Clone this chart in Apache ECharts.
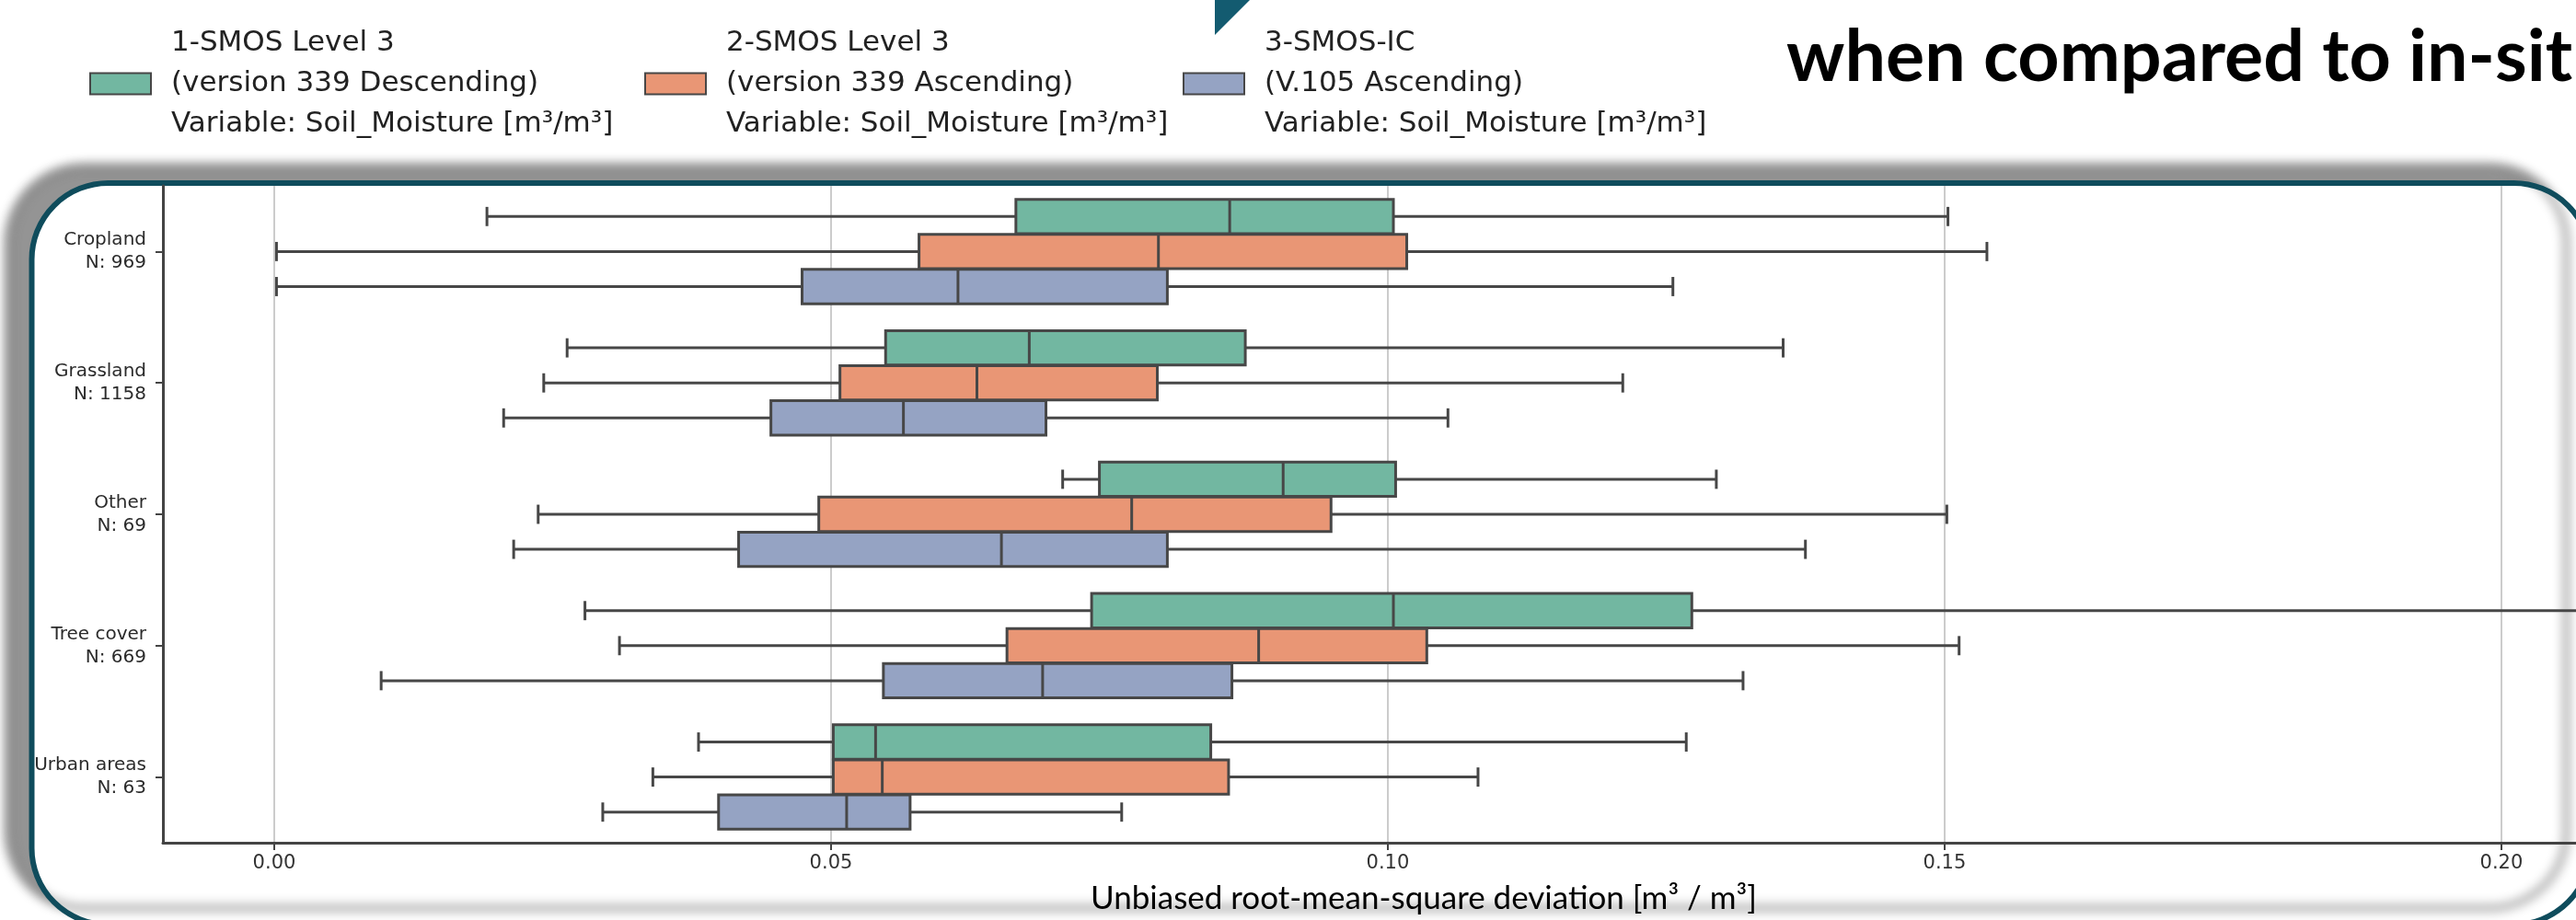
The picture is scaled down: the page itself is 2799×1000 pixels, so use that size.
<!DOCTYPE html>
<html>
<head>
<meta charset="utf-8">
<script src="https://cdn.jsdelivr.net/npm/echarts@6/dist/echarts.min.js"></script>
<style>
html, body { margin: 0; padding: 0; background: #fff; }
#chart { width: 2799px; height: 1000px; }
</style>
</head>
<body>
<div id="chart"></div>
<script>
// land cover classes and sample counts (y axis)
const categories = ['Cropland', 'Grassland', 'Other', 'Tree cover', 'Urban areas'];
const counts = [969, 1158, 69, 669, 63];

const seriesNames = [
  '1-SMOS Level 3\n(version 339 Descending)\nVariable: Soil_Moisture [m³/m³]',
  '2-SMOS Level 3\n(version 339 Ascending)\nVariable: Soil_Moisture [m³/m³]',
  '3-SMOS-IC\n(V.105 Ascending)\nVariable: Soil_Moisture [m³/m³]'
];

// per category: [low whisker, q1, median, q3, high whisker]
const smosL3Desc = [
  [0.0191, 0.0666, 0.0858, 0.1005, 0.1503],
  [0.0263, 0.0549, 0.0678, 0.0872, 0.1355],
  [0.0708, 0.0741, 0.0906, 0.1007, 0.1295],
  [0.0279, 0.0734, 0.1005, 0.1273, 0.2150],
  [0.0381, 0.0502, 0.0540, 0.0841, 0.1268]
];
const smosL3Asc = [
  [0.0002, 0.0579, 0.0794, 0.1017, 0.1538],
  [0.0242, 0.0508, 0.0631, 0.0793, 0.1211],
  [0.0237, 0.0489, 0.0770, 0.0949, 0.1502],
  [0.0310, 0.0658, 0.0884, 0.1035, 0.1513],
  [0.0340, 0.0502, 0.0546, 0.0857, 0.1081]
];
const smosIC = [
  [0.0002, 0.0474, 0.0614, 0.0802, 0.1256],
  [0.0206, 0.0446, 0.0565, 0.0693, 0.1054],
  [0.0215, 0.0417, 0.0653, 0.0802, 0.1375],
  [0.0096, 0.0547, 0.0690, 0.0860, 0.1319],
  [0.0295, 0.0399, 0.0514, 0.0571, 0.0761]
];

const xTicks = [0, 0.05, 0.10, 0.15, 0.20];

const palette = ['#72b7a1', '#e99675', '#95a3c3'];
const edge = '#474747';

// draws one box (whiskers, caps, box, median), shifted inside the category band
function boxRenderer(slot) {
  return function (params, api) {
    const cat = api.value(0);
    const band = api.size([0, 1])[1];
    const step = band * 0.8 / 3;
    const bh = step * 0.98;
    const yc = api.coord([0, cat])[1] + (slot - 1) * step;
    const px = i => api.coord([api.value(i), cat])[0];
    const lo = px(1), q1 = px(2), md = px(3), q3 = px(4), hi = px(5);
    const cap = bh * 0.28;
    const ls = { stroke: edge, lineWidth: 3 };
    return {
      type: 'group',
      children: [
        { type: 'line', shape: { x1: lo, y1: yc, x2: q1, y2: yc }, style: ls },
        { type: 'line', shape: { x1: q3, y1: yc, x2: hi, y2: yc }, style: ls },
        { type: 'line', shape: { x1: lo, y1: yc - cap, x2: lo, y2: yc + cap }, style: ls },
        { type: 'line', shape: { x1: hi, y1: yc - cap, x2: hi, y2: yc + cap }, style: ls },
        { type: 'rect', shape: { x: q1, y: yc - bh / 2, width: q3 - q1, height: bh },
          style: { fill: api.visual('color'), stroke: edge, lineWidth: 3 } },
        { type: 'line', shape: { x1: md, y1: yc - bh / 2, x2: md, y2: yc + bh / 2 }, style: ls }
      ]
    };
  };
}

const allStats = [smosL3Desc, smosL3Asc, smosIC];

const legendCommon = {
  top: 10,
  padding: 0,
  icon: 'rect',
  itemWidth: 66,
  itemHeight: 23,
  selectedMode: false,
  itemStyle: { borderColor: edge, borderWidth: 2 },
  textStyle: {
    fontFamily: 'DejaVu Sans',
    fontSize: 31,
    lineHeight: 44,
    color: '#222',
    padding: [0, 0, 30, 17]
  }
};

const chart = echarts.init(document.getElementById('chart'));
chart.setOption({
  animation: false,
  backgroundColor: '#fff',
  title: {
    text: 'when compared to in-sit',
    left: 1936,
    top: 18,
    textStyle: { fontFamily: 'Lato', fontWeight: 'bold', fontSize: 79, color: '#000' }
  },
  legend: [
    Object.assign({ left: 97, data: [seriesNames[0]] }, legendCommon),
    Object.assign({ left: 700, data: [seriesNames[1]] }, legendCommon),
    Object.assign({ left: 1285, data: [seriesNames[2]] }, legendCommon)
  ],
  graphic: [
    {
      type: 'rect',
      z: -10,
      shape: { x: 34.5, y: 199, width: 2780, height: 806, r: 83 },
      style: {
        fill: '#fff',
        stroke: '#0f4c5c',
        lineWidth: 6,
        shadowColor: 'rgba(0,0,0,0.42)',
        shadowBlur: 12,
        shadowOffsetX: -26,
        shadowOffsetY: -18
      }
    },
    {
      type: 'polygon',
      shape: { points: [[1320, 0], [1358, 0], [1320, 38]] },
      style: { fill: '#135b70' }
    }
  ],
  grid: { left: 177, top: 202, right: 0, height: 714 },
  xAxis: {
    type: 'value',
    min: -0.01,
    max: 0.2067,
    name: 'Unbiased root-mean-square deviation [m³ / m³]',
    nameLocation: 'middle',
    nameGap: 43,
    nameTextStyle: { fontFamily: 'Lato', fontSize: 35, color: '#000', padding: [0, 0, 0, 118] },
    axisLine: { show: true, onZero: false, lineStyle: { color: '#444', width: 3 } },
    axisTick: { show: true, customValues: xTicks, length: 8, lineStyle: { color: '#444', width: 2 } },
    axisLabel: {
      customValues: xTicks,
      formatter: v => v.toFixed(2),
      fontFamily: 'DejaVu Sans',
      fontSize: 21,
      color: '#333',
      margin: 12
    },
    splitLine: { show: true, lineStyle: { color: '#cccccc', width: 2 } }
  },
  yAxis: {
    type: 'category',
    data: categories,
    inverse: true,
    axisLine: { show: true, onZero: false, lineStyle: { color: '#444', width: 3 } },
    axisTick: { show: true, alignWithLabel: true, length: 8, lineStyle: { color: '#444', width: 2 } },
    axisLabel: {
      formatter: (v, i) => v + '\nN: ' + counts[i],
      fontFamily: 'DejaVu Sans',
      fontSize: 20,
      lineHeight: 25,
      color: '#2b2b2b',
      margin: 18,
      align: 'right'
    },
    splitLine: { show: false }
  },
  series: allStats.map((stats, s) => ({
    type: 'custom',
    name: seriesNames[s],
    itemStyle: { color: palette[s] },
    encode: { x: [1, 2, 3, 4, 5], y: 0 },
    renderItem: boxRenderer(s),
    data: stats.map((row, i) => [i].concat(row))
  }))
});
</script>
</body>
</html>
